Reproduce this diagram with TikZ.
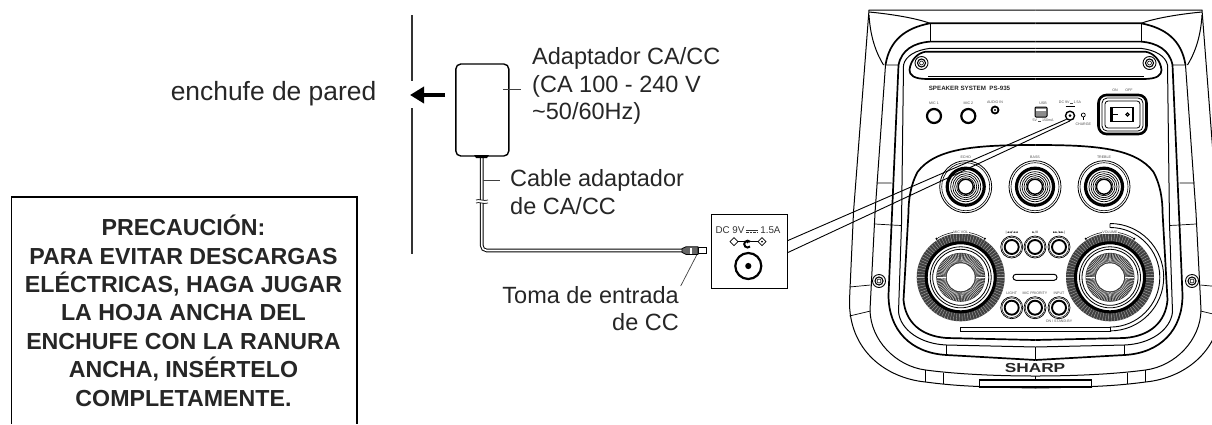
\documentclass[tikz,border=0pt]{standalone}
\usepackage{fontspec}
\setmainfont{Liberation Sans}
\newfontfamily\symfont{DejaVu Sans}
\usetikzlibrary{arrows.meta}
\tikzset{
    leader/.style={line width=0.7pt, black!75},
    labeltext/.style={font=\fontsize{23.5}{27.5}\selectfont, text=black!85, inner sep=0pt},
    tiny/.style={font=\fontsize{3.6}{4}\selectfont, text=black!70, inner sep=0pt},
    thin line/.style={line width=0.7pt},
    band/.style={line width=1.7pt},
    jack/.style={draw, line width=2.2pt, fill=white},
}
\begin{document}
\begin{tikzpicture}[x=1pt, y=-1pt, >=Stealth]
    \useasboundingbox (0,0) rectangle (1212,424);

    % wall and arrow
    \coordinate (walltop) at (412,15);
    \coordinate (wallgap1) at (412,81);
    \coordinate (wallgap2) at (412,108);
    \coordinate (wallend) at (412,254);
    \draw[line width=1.6pt, black!80] (walltop) -- (wallgap1) (wallgap2) -- (wallend);
    \node[labeltext, font=\fontsize{26.4}{28}\selectfont, anchor=base east] (plug) at (376.5,100) {enchufe de pared};

    % adapter
    \node[draw, line width=1.4pt, rounded corners=5pt, minimum width=53pt, minimum height=92pt, inner sep=0pt] (adapter) at (482.3,110) {};
    \coordinate (arrowend) at (410,95);
    \draw[-{Stealth[length=14pt,width=16pt,inset=0pt]}, line width=4.4pt] (adapter.west |- arrowend) ++(-10,0) -- (arrowend);
    \node[labeltext, anchor=north west, align=left] (adaptertext) at (532,47.5) {Adaptador CA/CC\\(CA 100 - 240 V\\\textasciitilde50/60Hz)};
    \coordinate (adapterlead) at (503,89);
    \draw[leader] (adapterlead) -- (520.7,89);

    % cable
    \coordinate (plugtip) at (682,250.5);
    \draw[line width=3.6pt, rounded corners=5pt] (481.7,156) -- (481.7,250.5) -- (plugtip);
    \draw[line width=1.6pt, white, rounded corners=5pt] (481.7,157) -- (481.7,250.5) -- (plugtip);
    \fill (474,155) -- (489,155) -- (487,158) -- (476,158) -- cycle;
    \fill[white] (475,200) rectangle (488,203);
    \draw[line width=0.7pt] (476,200) .. controls (479,198.5) and (484,201.5) .. (488,200);
    \draw[line width=0.7pt] (476,203) .. controls (479,201.5) and (484,204.5) .. (488,203);
    \coordinate (cablelead) at (483,180.7);
    \draw[leader] (cablelead) -- (500,180.7);
    \node[labeltext, anchor=north west, align=left] (cabletext) at (510,169.5) {Cable adaptador\\de CA/CC};

    % plug
    \draw[line width=0.8pt, fill=white] (698,247.6) rectangle (706.5,253.4);
    \draw[line width=0.8pt, fill=black!60] (682,248.6) -- (686,246.8) -- (698,246.8) -- (698,254.4) -- (686,254.4) -- (682,252.4) -- cycle;
    \fill[white] (690,247.6) rectangle (692,253.6);
    \coordinate (plugpoint) at (696.7,255);
    \node[labeltext, anchor=north east, align=right] (dctext) at (679,286) {Toma de entrada\\de CC};
    \draw[leader] (plugpoint) -- (680.7,286);

    % inset
    \node[draw, fill=white, line width=1pt, minimum width=76pt, minimum height=74pt, inner sep=0pt] (inset) at (749,251) {};
    \node[inner sep=0pt, font=\fontsize{9.8}{12}\selectfont, text=black!80] (insettext) at (748,230) {DC 9V\,\raisebox{0.4pt}{\tikz[x=1pt,y=1pt]{\draw[line width=0.7pt] (0,2.2) -- (12,2.2); \draw[line width=0.7pt, dash pattern=on 2.5pt off 1pt] (0,0) -- (12,0);}}\,1.5A};
    \coordinate (polarity) at (748,241.7);
    \draw[line width=0.8pt] ([xshift=-14pt]polarity) -- ([xshift=14pt]polarity);
    \foreach \s in {-1,1} \draw[line width=0.7pt, fill=white] ([xshift=\s*14pt]polarity) ++(-4,0) -- ++(4,-4) -- ++(4,4) -- ++(-4,4) -- cycle;
    \fill ([xshift=14pt]polarity) circle (1pt);
    \draw[line width=2pt, fill=white] ([xshift=2pt]polarity) arc (45:315:3.4pt);
    \fill ([xshift=-0.5pt]polarity) circle (1.6pt);
    \node[circle, draw, line width=2.2pt, minimum size=26pt, inner sep=0pt] (insetjack) at (748.3,266) {};
    \fill (insetjack.center) circle (3.1pt);

    % warning box
    \draw[line width=1.1pt] (11.5,424) -- (11.5,197) -- (357,197) -- (357,424);
    \node[anchor=north, align=center, inner sep=0pt, font=\fontsize{23.2}{28.4}\bfseries\selectfont, text=black!85] (warning) at (183.5,215)
        {PRECAUCIÓN:\\PARA EVITAR DESCARGAS\\ELÉCTRICAS, HAGA JUGAR\\LA HOJA ANCHA DEL\\ENCHUFE CON LA RANURA\\ANCHA, INSÉRTELO\\COMPLETAMENTE.};

    % speaker body, both halves
    \foreach \s in {-1,1} {
    \begin{scope}[shift={(1035.5,0)}, xscale=\s]
        \draw[line width=1pt] (0,10) -- (-166.5,10) -- (-182,212) -- (-186,300) .. controls (-187,350) and (-150,378) .. (-110,382) .. controls (-80,386) and (-56,387) .. (0,388);
        \draw[line width=1pt] (-166.5,12) .. controls (-145,14) and (-120,18) .. (-105.5,23.3);
        \draw[line width=1pt] (-166.5,15) .. controls (-165,40) and (-158,55) .. (-152,65);
        \draw[band] (0,23.3) -- (-105.5,23.3) .. controls (-130,28) and (-146,40) .. (-150,65);
        \draw[line width=1pt] (-150,65) -- (-160.5,213) -- (-165.5,310) .. controls (-165,340) and (-140,366) .. (-110,370) .. controls (-80,374) and (-40,376) .. (0,376);
        \draw[line width=1pt] (-105.5,23.3) -- (-105.5,41.6);
        \draw[band] (0,41.6) -- (-105.5,41.6) .. controls (-122,43) and (-134,50) .. (-137,65) -- (-144,225) -- (-147,295) .. controls (-147,330) and (-125,353) .. (-89,355) -- (0,360);
        \draw[line width=1pt] (0,48.3) -- (-105,48.3) .. controls (-120,50) and (-130,56) .. (-132,65) -- (-134,224) -- (-137,312) .. controls (-135,330) and (-115,344) .. (-89,345) -- (0,347);
        \draw[band] (0,145) .. controls (-60,145) and (-100,148) .. (-118,172) .. controls (-125,185) and (-127,200) .. (-127,212) -- (-132,300) .. controls (-130,322) and (-115,336) .. (-89,338) -- (0,340);
        % joints
        \draw[thin line] (-150,65) -- (-137,65) (-159,183) -- (-144,183) (-160.5,224) -- (-144,225) -- (-134,225.5);
        \draw[thin line] (-186,287) -- (-165,285) (-186,316) -- (-165,311);
        \draw[thin line] (-89,345) -- (-89,355) (0,347) -- (0,360);
        \draw[thin line] (-110,370) -- (-110,382) (-92,372.5) -- (-92,384);
        \draw[thin line] (0,376) -- (0,380);
        % handle
        \draw[band] (0,51.7) -- (-110,51.7) .. controls (-118,53) and (-125,60) .. (-126,70) .. controls (-126,75) and (-122,79) .. (-108,79) -- (0,79);
        \draw[thin line] (0,76.5) -- (-108,76.5);
        % screws
        \foreach \p in {(-114,63), (-156.5,281)} {
            \draw[line width=0.9pt] \p circle (6.5pt);
            \draw[line width=1.1pt] \p circle (4pt);
            \draw[line width=0.6pt] \p circle (2pt);
        }
    \end{scope}
    }

    % lower handle
    \draw[line width=1.8pt, fill=white] (979.5,380) rectangle (1091.5,387);

    % top row
    \node[inner sep=0pt, font=\fontsize{6.2}{7}\bfseries\selectfont, text=black!85] (speakername) at (969.5,88) {SPEAKER SYSTEM\ \ PS-935};
    \node[inner sep=0pt, font=\fontsize{13}{14}\bfseries\selectfont, text=black!85, xscale=1.33] (sharplogo) at (1035,368) {SHARP};
    \node[circle, jack, minimum size=14pt, inner sep=0pt] (mica) at (934,116) {};
    \node[circle, jack, minimum size=14pt, inner sep=0pt] (micb) at (968.3,116) {};
    \node[circle, jack, minimum size=7pt, inner sep=0pt, line width=1.8pt] (audioin) at (995,110) {};
    \fill (audioin.center) circle (1.2pt);
    \node[tiny] (micalabel) at (934,103) {MIC 1};
    \node[tiny] (micblabel) at (968.3,103) {MIC 2};
    \node[tiny] (audiolabel) at (995,102.5) {AUDIO IN};
    \node[draw, fill=black!45, line width=1pt, rounded corners=1pt, minimum width=12pt, minimum height=10pt, inner sep=0pt] (usb) at (1041,112) {};
    \fill[white] (1036,108.5) rectangle (1046,110.5);
    \node[tiny] (usblabel) at (1043,103) {USB};
    \node[tiny] (usbvolt) at (1043,120.7) {5V \rule[0.8pt]{3pt}{0.3pt} 150mA};
    \node[circle, jack, minimum size=9pt, inner sep=0pt, line width=1.4pt] (dcjack) at (1070,115.7) {};
    \fill (dcjack.center) circle (1.5pt);
    \node[tiny] (dclabel) at (1070,102.6) {DC 9V\,\rule[0.8pt]{3pt}{0.3pt}\,1.5A};
    \node[inner sep=0pt, font=\fontsize{3}{3}\selectfont] (dcsymbol) at (1070,106.5) {\rule[0.8pt]{9pt}{0.5pt}};
    \node[circle, draw, thin line, minimum size=4pt, inner sep=0pt] (charge) at (1083.3,115) {};
    \draw[line width=0.5pt] (charge) -- ++(0,5);
    \node[tiny] (chargelabel) at (1083.3,124.3) {CHARGE};

    % power switch
    \node[draw, line width=2.6pt, rounded corners=8pt, minimum width=48pt, minimum height=39pt, inner sep=0pt] (switch) at (1122.5,114.5) {};
    \node[draw, line width=0.8pt, rounded corners=5pt, minimum width=41pt, minimum height=33pt, inner sep=0pt] (switchring) at (1122.5,114.5) {};
    \node[draw, line width=0.8pt, rounded corners=3pt, minimum width=35pt, minimum height=27pt, inner sep=0pt] (switchframe) at (1122.5,114.5) {};
    \node[draw, line width=1.4pt, minimum width=21pt, minimum height=14pt, inner sep=0pt] (rocker) at (1122.5,114.5) {};
    \draw[line width=1.8pt] (rocker.north west) -- (rocker.south west);
    \draw[line width=1.4pt] (rocker.west) -- ++(7,0);
    \draw[line width=1.2pt] (rocker.center) ++(5,0) circle (1.6pt);
    \node[tiny] (onlabel) at (1115,90.5) {ON};
    \node[tiny] (offlabel) at (1129,90.5) {OFF};

    % tone knobs
    \foreach \x/\t in {965.7/ECHO, 1035/BASS, 1104/TREBLE} {
        \draw[line width=0.8pt, fill=white] (\x,186.7) circle (26pt);
        \draw[line width=0.6pt] (\x,186.7) circle (24pt);
        \draw[line width=3.2pt] (\x,186.7) circle (18.5pt);
        \foreach \r in {9,11,13,15} \draw[line width=0.7pt] (\x,186.7) circle (\r pt);
        \draw[line width=1.4pt] (\x,186.7) circle (7.5pt);
        \node[tiny] at (\x,157.5) {\t};
    }

    % big knobs
    \foreach \x/\t in {960.7/MIC VOL, 1110/VOLUME} {
        \fill[black!75] (\x,277.3) circle (44pt);
        \foreach \a in {0,4,...,356} \draw[line width=0.35pt, white!70!black] (\x,277.3) ++(\a:36pt) -- ++(\a:8pt);
        \draw[line width=3pt, fill=white] (\x,277.3) circle (34.5pt);
        \draw[line width=0.8pt] (\x,277.3) circle (30.5pt);
        \draw[line width=0.8pt] (\x,277.3) circle (28pt);
        \fill[black!80] (\x,277.3) circle (24.5pt);
        \foreach \a in {0,4,...,356} \draw[line width=0.35pt, white] (\x,277.3) ++(\a:15pt) -- ++(\a:9pt);
        \fill[white] (\x,277.3) circle (14pt);
        \draw[line width=0.5pt] (\x,277.3) ++(120:45.5pt) arc (120:60:45.5pt);
        \fill (\x,277.3) ++(122:45.5pt) circle (1.2pt) (\x,277.3) ++(58:45.5pt) circle (1.2pt);
        \node[tiny, fill=white, inner sep=0.5pt] at (\x,232) {\t};
    }

    % small buttons
    \foreach \x/\b in {1011.7/LIGHT, 1035/MIC PRIORITY, 1059/INPUT} {
        \foreach \y in {247,307.7} {
            \draw[line width=0.7pt, fill=white] (\x,\y) circle (11pt);
            \draw[line width=0.5pt] (\x,\y) circle (9.8pt);
            \draw[line width=1.9pt] (\x,\y) circle (7pt);
        }
        \node[tiny] at (\x,293.5) {\b};
    }
    \node[tiny, text=black, font=\symfont\fontsize{3.2}{4}\selectfont] (prevlabel) at (1011.7,232.7) {|◄◄/◄◄};
    \node[tiny, text=black, font=\symfont\fontsize{3.2}{4}\selectfont] (playlabel) at (1035,232.7) {►/II};
    \node[tiny, text=black, font=\symfont\fontsize{3.2}{4}\selectfont] (nextlabel) at (1059,232.7) {►►/►►|};
    \node[tiny] (standby) at (1059,321.5) {ON / STAND-BY};
    \node[draw, line width=1pt, rounded corners=3pt, minimum width=44pt, minimum height=6pt, inner sep=0pt] (slot) at (1035,277.3) {};

    % light strip
    \draw[line width=1pt] (960.7,327) rectangle (1110,331);
    \draw[line width=0.9pt] (1110,223.5) arc (90:-90:53.7pt) (1110,227.5) arc (90:-90:49.8pt) (1110,223.5) -- (1110,227.5);

    % callout lines
    \draw[line width=0.9pt] (inset.east |- 0,240.7) -- (dcjack.south west);
    \draw[line width=0.9pt] (inset.east |- 0,252.7) -- (dcjack.south);
\end{tikzpicture}
\end{document}
